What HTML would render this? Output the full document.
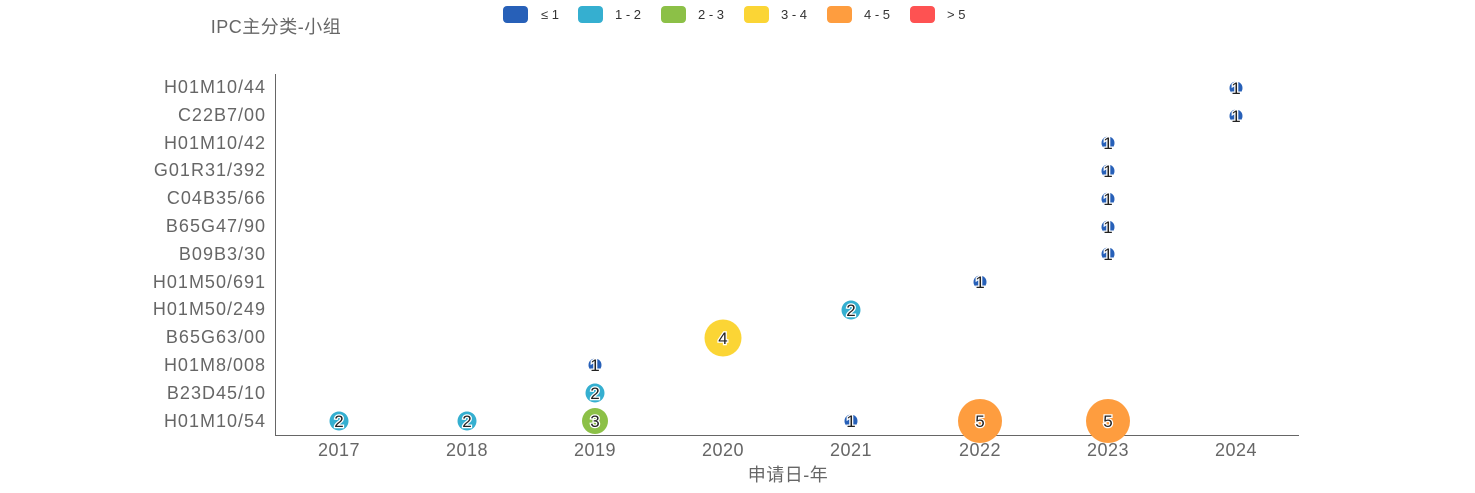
<!DOCTYPE html><html><head><style>body{margin:0;background:#fff}svg text{font-family:"Liberation Sans","Noto Sans CJK SC",sans-serif}</style></head><body>
<svg width="1475" height="488" xmlns="http://www.w3.org/2000/svg">
<text x="276" y="33" font-size="18" fill="#666" text-anchor="middle" letter-spacing="0.5">IPC主分类-小组</text>
<g font-size="13" fill="#333">
<rect x="503" y="6" width="25" height="17" rx="4" fill="#2760b8"/><text x="541" y="19">≤ 1</text>
<rect x="578" y="6" width="25" height="17" rx="4" fill="#35afd0"/><text x="615" y="19">1 - 2</text>
<rect x="661" y="6" width="25" height="17" rx="4" fill="#8cc047"/><text x="698" y="19">2 - 3</text>
<rect x="744" y="6" width="25" height="17" rx="4" fill="#fbd535"/><text x="781" y="19">3 - 4</text>
<rect x="827" y="6" width="25" height="17" rx="4" fill="#fe9d3f"/><text x="864" y="19">4 - 5</text>
<rect x="910" y="6" width="25" height="17" rx="4" fill="#fe5252"/><text x="947" y="19">&gt; 5</text>
</g>
<line x1="275.5" y1="74" x2="275.5" y2="435" stroke="#666"/>
<line x1="275" y1="435.5" x2="1299" y2="435.5" stroke="#666"/>
<g font-size="18" fill="#666" text-anchor="end" letter-spacing="1">
<text x="266" y="93">H01M10/44</text><text x="266" y="121">C22B7/00</text><text x="266" y="149">H01M10/42</text><text x="266" y="176">G01R31/392</text><text x="266" y="204">C04B35/66</text><text x="266" y="232">B65G47/90</text><text x="266" y="260">B09B3/30</text><text x="266" y="288">H01M50/691</text><text x="266" y="315">H01M50/249</text><text x="266" y="343">B65G63/00</text><text x="266" y="371">H01M8/008</text><text x="266" y="399">B23D45/10</text><text x="266" y="427">H01M10/54</text>
</g>
<g font-size="18" fill="#666" text-anchor="middle" letter-spacing="0.5">
<text x="339" y="456">2017</text><text x="467" y="456">2018</text><text x="595" y="456">2019</text><text x="723" y="456">2020</text><text x="851" y="456">2021</text><text x="980" y="456">2022</text><text x="1108" y="456">2023</text><text x="1236" y="456">2024</text>
<text x="788" y="481">申请日-年</text>
</g>
<g>
<circle cx="1236" cy="88" r="6.5" fill="#2760b8"/><circle cx="1236" cy="116" r="6.5" fill="#2760b8"/>
<circle cx="1108" cy="143" r="6.5" fill="#2760b8"/><circle cx="1108" cy="171" r="6.5" fill="#2760b8"/><circle cx="1108" cy="199" r="6.5" fill="#2760b8"/><circle cx="1108" cy="227" r="6.5" fill="#2760b8"/><circle cx="1108" cy="254" r="6.5" fill="#2760b8"/>
<circle cx="980" cy="282" r="6.5" fill="#2760b8"/>
<circle cx="851" cy="310" r="9.5" fill="#35afd0"/>
<circle cx="723" cy="338" r="18.5" fill="#fbd535"/>
<circle cx="595" cy="365" r="6.5" fill="#2760b8"/>
<circle cx="595" cy="393" r="9.5" fill="#35afd0"/>
<circle cx="339" cy="421" r="9.5" fill="#35afd0"/><circle cx="467" cy="421" r="9.5" fill="#35afd0"/><circle cx="595" cy="421" r="13" fill="#8cc047"/><circle cx="851" cy="421" r="6.5" fill="#2760b8"/><circle cx="980" cy="421" r="22" fill="#fe9d3f"/><circle cx="1108" cy="421" r="22" fill="#fe9d3f"/>
</g>
<g font-size="17" fill="#222" text-anchor="middle" stroke="#fff" stroke-width="2.5" paint-order="stroke">
<text x="1236" y="94">1</text><text x="1236" y="122">1</text>
<text x="1108" y="149">1</text><text x="1108" y="177">1</text><text x="1108" y="205">1</text><text x="1108" y="233">1</text><text x="1108" y="260">1</text>
<text x="980" y="288">1</text><text x="851" y="316">2</text><text x="723" y="344">4</text>
<text x="595" y="371">1</text><text x="595" y="399">2</text>
<text x="339" y="427">2</text><text x="467" y="427">2</text><text x="595" y="427">3</text><text x="851" y="427">1</text><text x="980" y="427">5</text><text x="1108" y="427">5</text>
</g>
</svg></body></html>
